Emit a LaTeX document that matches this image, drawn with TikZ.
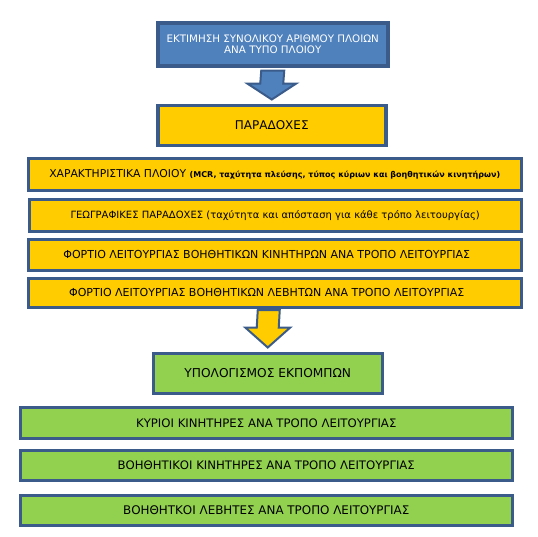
\documentclass[tikz,border=0pt]{standalone}
\usepackage{fontspec}
\setmainfont{DejaVu Sans}
\usetikzlibrary{calc}
\definecolor{bfill}{HTML}{4F81BD}
\definecolor{bline}{HTML}{3B5B8A}
\definecolor{yfill}{HTML}{FFCC00}
\definecolor{gfill}{HTML}{92D050}
\newcommand{\fsz}[1]{\fontsize{#1}{#1}\selectfont}
\tikzset{
  box/.style={draw=bline, line width=3.5pt, inner sep=0pt, anchor=north west},
  bluebox/.style={box, fill=bfill, text=white, align=center},
  yelbox/.style={box, fill=yfill},
  grnbox/.style={box, fill=gfill},
  blockarrow/.style={draw=bline, line width=2pt, line join=miter}
}
\begin{document}
\begin{tikzpicture}[x=1pt,y=1pt]
\useasboundingbox (0,0) rectangle (538,-536);
\node[bluebox, minimum width=230, minimum height=43, font=\fsz{10.3}] (b1) at (156,-21) {ΕΚΤΙΜΗΣΗ ΣΥΝΟΛΙΚΟΥ ΑΡΙΘΜΟΥ ΠΛΟΙΩΝ\\[1.5pt]ΑΝΑ ΤΥΠΟ ΠΛΟΙΟΥ};
\node[yelbox, minimum width=228, minimum height=40, font=\fsz{12}] (b2) at (156,-103.5) {ΠΑΡΑΔΟΧΕΣ};
\node[yelbox, minimum width=493, minimum height=32, font=\fsz{10.8}] (b3) at (26.5,-156.5) {ΧΑΡΑΚΤΗΡΙΣΤΙΚΑ ΠΛΟΙΟΥ {\fsz{8}\bfseries (MCR, ταχύτητα πλεύσης, τύπος κύριων και βοηθητικών κινητήρων)}};
\node[yelbox, minimum width=492, minimum height=32, font=\fsz{10}] (b4) at (27.5,-197.5) {ΓΕΩΓΡΑΦΙΚΕΣ ΠΑΡΑΔΟΧΕΣ (ταχύτητα και απόσταση για κάθε τρόπο λειτουργίας)};
\node[yelbox, minimum width=493, minimum height=31, font=\fsz{11}] (b5) at (26.5,-237.5) {ΦΟΡΤΙΟ ΛΕΙΤΟΥΡΓΙΑΣ ΒΟΗΘΗΤΙΚΩΝ ΚΙΝΗΤΗΡΩΝ ΑΝΑ ΤΡΟΠΟ ΛΕΙΤΟΥΡΓΙΑΣ\hspace*{16pt}};
\node[yelbox, minimum width=493, minimum height=29, font=\fsz{11}] (b6) at (26.5,-276.5) {ΦΟΡΤΙΟ ΛΕΙΤΟΥΡΓΙΑΣ ΒΟΗΘΗΤΙΚΩΝ ΛΕΒΗΤΩΝ ΑΝΑ ΤΡΟΠΟ ΛΕΙΤΟΥΡΓΙΑΣ\hspace*{16pt}};
\node[grnbox, minimum width=229, minimum height=40, font=\fsz{12.2}] (b7) at (151.5,-351.5) {ΥΠΟΛΟΓΙΣΜΟΣ ΕΚΠΟΜΠΩΝ};
\node[grnbox, minimum width=492, minimum height=31, font=\fsz{11.7}] (b8) at (18.5,-405.5) {ΚΥΡΙΟΙ ΚΙΝΗΤΗΡΕΣ ΑΝΑ ΤΡΟΠΟ ΛΕΙΤΟΥΡΓΙΑΣ};
\node[grnbox, minimum width=492, minimum height=30, font=\fsz{11.7}] (b9) at (18.5,-448.5) {ΒΟΗΘΗΤΙΚΟΙ ΚΙΝΗΤΗΡΕΣ ΑΝΑ ΤΡΟΠΟ ΛΕΙΤΟΥΡΓΙΑΣ};
\node[grnbox, minimum width=492, minimum height=30, font=\fsz{11.9}] (b10) at (18.5,-493.5) {ΒΟΗΘΗΤΚΟΙ ΛΕΒΗΤΕΣ ΑΝΑ ΤΡΟΠΟ ΛΕΙΤΟΥΡΓΙΑΣ};
% block arrow 1
\coordinate (a1top) at ([yshift=-3pt]b1.south);
\coordinate (a1tip) at ([yshift=4pt]b2.north);
\draw[blockarrow, fill=bfill] ($(a1top)+(-11.5,0)$) -- ($(a1tip)+(-11.5,16)$) -- ($(a1tip)+(-24.5,16)$) -- (a1tip) -- ($(a1tip)+(24.5,16)$) -- ($(a1tip)+(11.5,16)$) -- ($(a1top)+(11.5,0)$) -- cycle;
% block arrow 2
\coordinate (a2top) at ([xshift=-6pt,yshift=-1pt]b6.south);
\coordinate (a2tip) at ([yshift=4pt]b7.north);
\draw[blockarrow, fill=yfill] ($(a2top)+(-11,0)$) -- ($(a2tip)+(-11,20)$) -- ($(a2tip)+(-22.5,20)$) -- (a2tip) -- ($(a2tip)+(22.5,20)$) -- ($(a2tip)+(11,20)$) -- ($(a2top)+(11,0)$) -- cycle;
\end{tikzpicture}
\end{document}
